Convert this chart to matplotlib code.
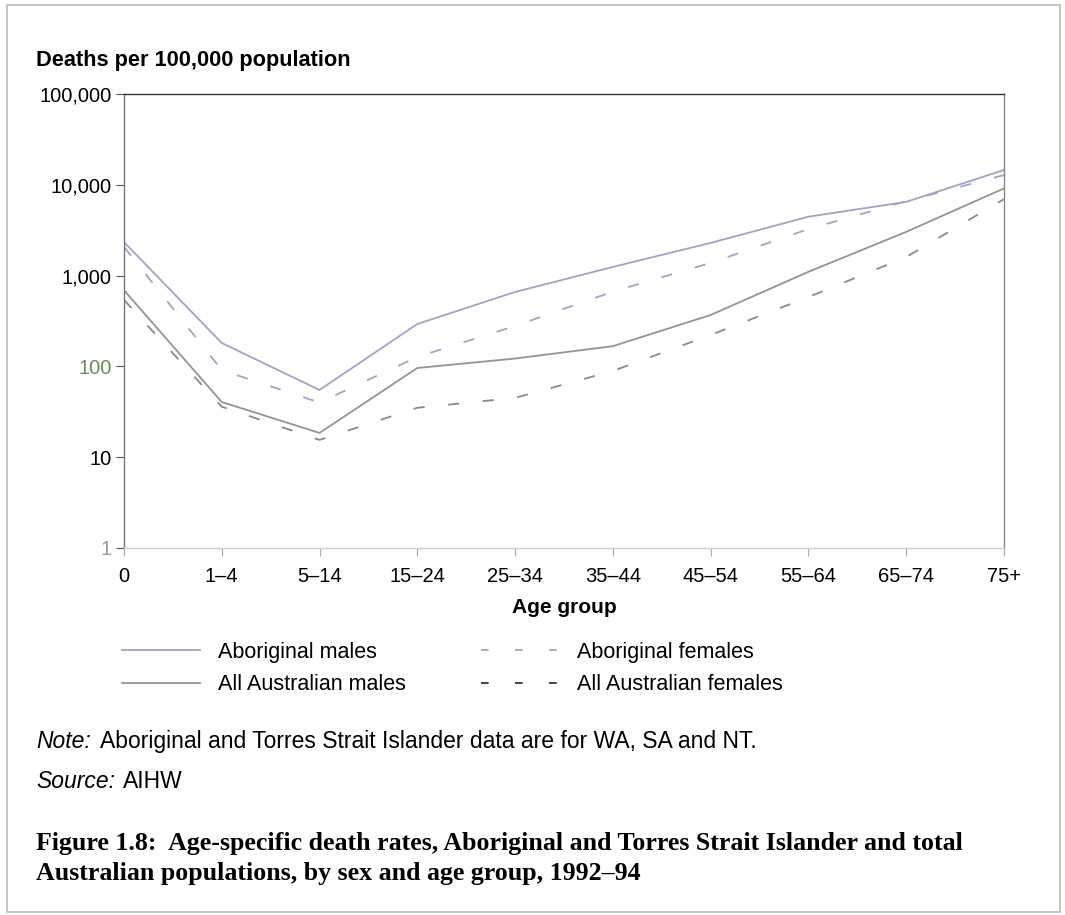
import matplotlib.pyplot as plt
from matplotlib.lines import Line2D
from matplotlib.patches import Rectangle

plt.rcParams['font.family'] = ['Liberation Sans', 'DejaVu Sans']
plt.rcParams['lines.scale_dashes'] = False

# --- data: deaths per 100,000 population ---
age_groups = ['0', '1–4', '5–14', '15–24', '25–34', '35–44', '45–54', '55–64', '65–74', '75+']
aboriginal_males = [2340, 181, 55, 293, 660, 1245, 2290, 4450, 6480, 14560]
aboriginal_females = [2070, 91, 40, 127, 279, 665, 1380, 3250, 6600, 12800]
all_aus_males = [690, 40.5, 18.5, 96, 122, 167, 368, 1100, 3030, 9120]
all_aus_females = [540, 36, 15.5, 35, 45, 89, 222, 580, 1600, 6950]

y_ticks = [1, 10, 100, 1000, 10000, 100000]
y_ticklabels = ['1', '10', '100', '1,000', '10,000', '100,000']

c_abm = '#9ea4c4'
c_abf = '#9ea4c4'
c_aum = '#8f9889'
c_auf = '#8a8a8a'

fig = plt.figure(figsize=(10.65, 9.15), dpi=100)
ax = fig.add_axes([0.1164, 0.4011, 0.8263, 0.4962])

x = list(range(len(age_groups)))
ax.plot(x, aboriginal_males, color=c_abm, lw=1.3)
ax.plot(x, aboriginal_females, color=c_abf, lw=1.3, dashes=(8, 17))
ax.plot(x, all_aus_males, color=c_aum, lw=1.3)
ax.plot(x, all_aus_females, color=c_auf, lw=1.3, dashes=(8, 17))

ax.set_yscale('log')
ax.set_ylim(1, 100000)
ax.set_xlim(0, len(age_groups) - 1)
ax.set_yticks(y_ticks)
ax.set_yticklabels(y_ticklabels, fontsize=14.5)
ax.minorticks_off()
ax.set_xticks(x)
ax.set_xticklabels(age_groups, fontsize=14.5)
ax.tick_params(axis='x', length=6, color='#aaaaaa', pad=8)
ax.tick_params(axis='y', length=6, color='#555555', pad=3)
for lbl in ax.get_yticklabels():
    if lbl.get_text() == '100':
        lbl.set_color('#6f8a55')
    elif lbl.get_text() == '1':
        lbl.set_color('#999999')

ax.spines['top'].set_color('#333333')
ax.spines['left'].set_color('#777777')
ax.spines['right'].set_color('#888888')
ax.spines['bottom'].set_color('#d0d0d0')
for s in ax.spines.values():
    s.set_linewidth(1.0)

ax.set_xlabel('Age group', fontsize=15, fontweight='bold', labelpad=8)
fig.text(0.0338, 0.9344, 'Deaths per 100,000 population', fontsize=15.7,
         fontweight='bold', va='center', ha='left')

# legend
handles = [
    Line2D([], [], color=c_abm, lw=1.3),
    Line2D([], [], color=c_aum, lw=1.3),
    Line2D([], [], color=c_abf, lw=1.3, dashes=(5.5, 19)),
    Line2D([], [], color='#333333', lw=1.3, dashes=(5.5, 19)),
]
labels = ['Aboriginal males', 'All Australian males',
          'Aboriginal females', 'All Australian females']
fig.legend(handles, labels, loc='upper left', bbox_to_anchor=(0.1146, 0.2985),
           ncol=2, frameon=False, fontsize=15.5, handlelength=3.6,
           handletextpad=0.85, columnspacing=3.5, labelspacing=0.52,
           borderpad=0, borderaxespad=0)

# notes and caption
fig.text(0.0338, 0.190, 'Note:', fontsize=16.5, style='italic', va='center')
fig.text(0.0939, 0.190,
         'Aboriginal and Torres Strait Islander data are for WA, SA and NT.',
         fontsize=16.5, va='center')
fig.text(0.0338, 0.1454, 'Source:', fontsize=16.5, style='italic', va='center')
fig.text(0.1155, 0.1454, 'AIHW', fontsize=16.5, va='center')

caption = ('Figure 1.8:  Age-specific death rates, Aboriginal and Torres Strait Islander and total\n'
           'Australian populations, by sex and age group, 1992–94')
fig.text(0.0338, 0.0787 + 0.012, caption, fontsize=18.6, fontweight='bold',
         family=['Liberation Serif'], va='top', ha='left',
         linespacing=1.38)

fig.patches.append(Rectangle((0.0066, 0.0033), 0.9887, 0.9913, transform=fig.transFigure,
                             fill=False, edgecolor='#bbbbbb', lw=1.2))

fig.savefig('out.png', dpi=100)
